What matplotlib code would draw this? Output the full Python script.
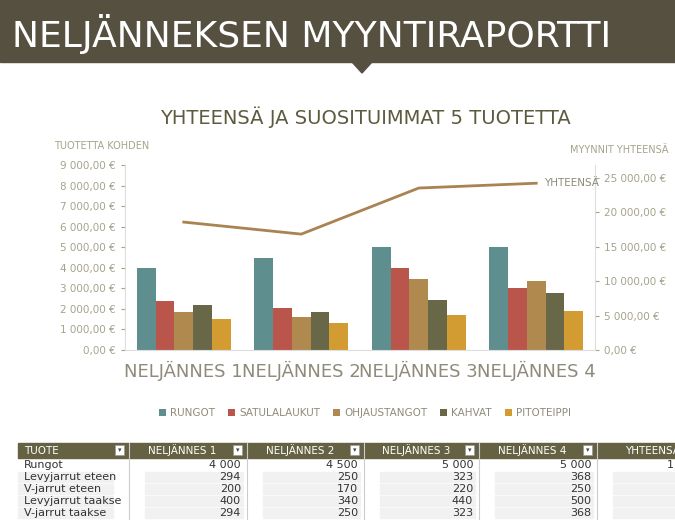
import matplotlib.pyplot as plt
from matplotlib.patches import Rectangle, Polygon
from matplotlib import font_manager
import numpy as np

# data
quarters = ["NELJÄNNES 1", "NELJÄNNES 2", "NELJÄNNES 3", "NELJÄNNES 4"]
products = ["RUNGOT", "SATULALAUKUT", "OHJAUSTANGOT", "KAHVAT", "PITOTEIPPI"]
rungot = [4000, 4500, 5000, 5000]
satulalaukut = [2400, 2030, 4000, 3020]
ohjaustangot = [1860, 1600, 3450, 3350]
kahvat = [2200, 1860, 2420, 2770]
pitoteippi = [1520, 1300, 1700, 1900]
totals = [18600, 16850, 23550, 24250]
colors = ["#5e8e8e", "#b9554a", "#b0894f", "#686848", "#d39c33"]

table_cols = ["TUOTE", "NELJÄNNES 1", "NELJÄNNES 2", "NELJÄNNES 3", "NELJÄNNES 4", "YHTEENSÄ"]
table_names = ["Rungot", "Levyjarrut eteen", "V-jarrut eteen", "Levyjarrut taakse", "V-jarrut taakse"]
table_vals = [[4000, 4500, 5000, 5000],
              [294, 250, 323, 368],
              [200, 170, 220, 250],
              [400, 340, 440, 500],
              [294, 250, 323, 368]]

names = {f.name for f in font_manager.fontManager.ttflist}
narrow = "Liberation Sans Narrow" if "Liberation Sans Narrow" in names else "DejaVu Sans Condensed"
plt.rcParams["font.family"] = [narrow, "DejaVu Sans"]

dark = "#565040"
grey = "#a6a38c"
W, H = 675, 520

fig = plt.figure(figsize=(6.75, 5.2), dpi=100)

# background overlay in pixel coords
bg = fig.add_axes([0, 0, 1, 1])
bg.set_xlim(0, W)
bg.set_ylim(H, 0)
bg.axis("off")
bg.add_patch(Rectangle((0, 0), W, 62, color=dark))
bg.add_patch(Polygon([[352, 62], [372, 62], [362, 73]], color=dark))
bg.text(12, 34, "NELJÄNNEKSEN MYYNTIRAPORTTI", color="white", fontsize=26, va="center")
bg.text(365, 117, "YHTEENSÄ JA SUOSITUIMMAT 5 TUOTETTA", color="#5e5a3e",
        fontsize=14, ha="center", va="center")
bg.text(54, 146, "TUOTETTA KOHDEN", color=grey, fontsize=7, va="center")
bg.text(668, 150, "MYYNNIT YHTEENSÄ", color=grey, fontsize=7, va="center", ha="right")

# table
col_x = [18, 130, 248, 365, 480, 598, 720]
bg.add_patch(Rectangle((18, 443), W - 18, 15, color="#656143"))
for i, name in enumerate(table_cols):
    x0, x1 = col_x[i], col_x[i + 1] - 3
    if i == 0:
        bg.text(x0 + 6, 450.5, name, color="white", fontsize=7.5, va="center")
    else:
        bg.text((x0 + x1) / 2 - 5, 450.5, name, color="white", fontsize=7.5, va="center", ha="center")
    if i < 5:
        bg.add_patch(Rectangle((x1 - 12, 445), 9, 10, facecolor="white", edgecolor="#999999", lw=0.5))
        bg.text(x1 - 7.5, 450.5, "▾", fontsize=5, ha="center", va="center", color="#444444",
                fontname="DejaVu Sans")
    if i > 0:
        bg.plot([x0 - 1.5, x0 - 1.5], [443, H], color="#cccccc", lw=0.8)
for r, name in enumerate(table_names):
    y = 465 + r * 12
    if r > 0:
        bg.add_patch(Rectangle((18, y - 5), 95, 10, color="#f1f1f1"))
        for c in range(1, 6):
            bg.add_patch(Rectangle((col_x[c] + 15, y - 5), col_x[c + 1] - col_x[c] - 20, 10, color="#f1f1f1"))
    bg.text(24, y, name, fontsize=8, va="center", color="#333333")
    for c, v in enumerate(table_vals[r]):
        bg.text(col_x[c + 2] - 7, y, f"{v:,}".replace(",", " "), fontsize=8,
                va="center", ha="right", color="#333333")
bg.text(W - 1, 465, "1", fontsize=8, va="center", ha="right", color="#333333")

# chart
ax = fig.add_axes([125 / W, 170 / H, 470 / W, 185 / H])
x = np.arange(len(quarters))
bw = 0.16
series = [rungot, satulalaukut, ohjaustangot, kahvat, pitoteippi]
for i, (vals, name) in enumerate(zip(series, products)):
    ax.bar(x + (i - 2) * bw, vals, bw, color=colors[i], label=name, zorder=2)
ax.set_ylim(0, 9000)
ax.set_xlim(-0.5, 3.5)
ax.set_yticks(range(0, 9001, 1000))
ax.set_yticklabels([f"{v:,}".replace(",", " ") + ",00 €" for v in range(0, 9001, 1000)])
ax.set_xticks(x)
ax.set_xticklabels(quarters, fontsize=13, color="#8f8b7a")
ax.tick_params(axis="y", labelsize=7.5, colors=grey, length=3)
ax.tick_params(axis="x", length=0, pad=8)
for s in ["top", "right"]:
    ax.spines[s].set_visible(False)
ax.spines["left"].set_color("#dddddd")
ax.spines["bottom"].set_color("#dddddd")

ax2 = ax.twinx()
ax2.plot(x, totals, color="#a98351", lw=2)
ax2.set_ylim(0, 26900)
ax2.set_yticks(range(0, 25001, 5000))
ax2.set_yticklabels([("0" if v == 0 else f"{v:,}".replace(",", " ")) + ",00 €" for v in range(0, 25001, 5000)])
ax2.tick_params(axis="y", labelsize=7.5, colors=grey, length=3)
for s in ["top", "left", "bottom"]:
    ax2.spines[s].set_visible(False)
ax2.spines["right"].set_color("#dddddd")
ax2.text(3.07, totals[-1], "YHTEENSÄ", fontsize=7.5, color="#8f8b7a", va="center")

fig.legend(*ax.get_legend_handles_labels(), loc="center", bbox_to_anchor=(365 / W, 1 - 413 / H),
           ncol=5, frameon=False, fontsize=7.5, handlelength=0.7, handleheight=0.7,
           columnspacing=1.2, handletextpad=0.4, labelcolor="#8f8b7a")

fig.savefig("out.png", dpi=100)
